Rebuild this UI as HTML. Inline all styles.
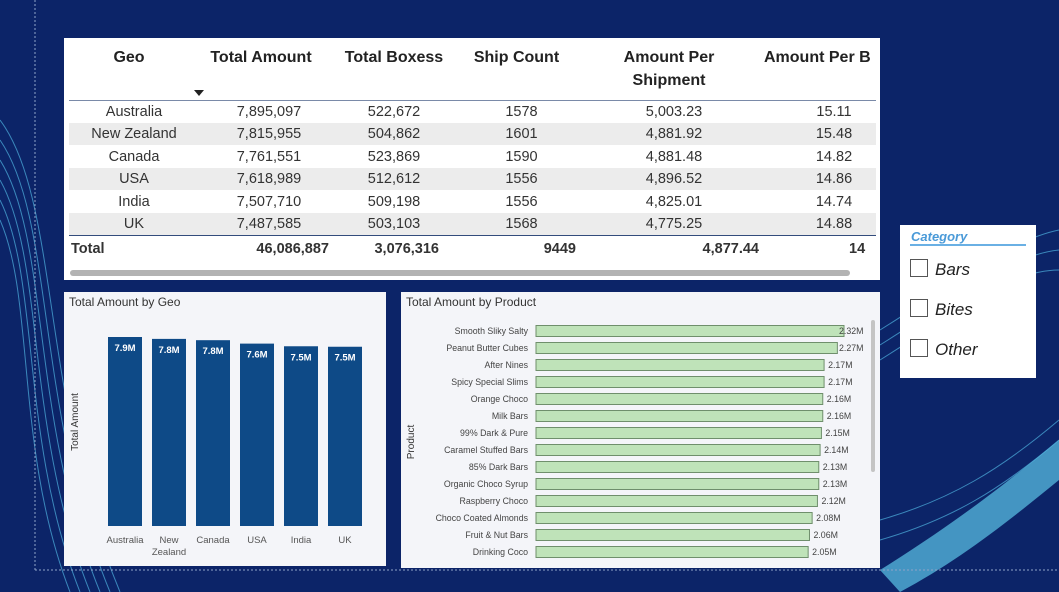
<!DOCTYPE html>
<html><head><meta charset="utf-8"><style>
body{margin:0;width:1059px;height:592px;overflow:hidden;background:#0c2468;font-family:"Liberation Sans",sans-serif;position:relative}
.abs{position:absolute}
.tbl{left:64px;top:38px;width:816px;height:242px;background:#fff}
.th{position:absolute;top:8px;font-weight:bold;font-size:16px;color:#222;text-align:center;line-height:23px}
.row{position:absolute;left:5px;width:807px;height:22px;font-size:14.5px;color:#333}
.row span{position:absolute;top:3px;text-align:center}
.panel{background:#f4f5f9}
</style></head><body>
<svg class="abs" style="left:0;top:0" width="1059" height="592">
<g fill="none" stroke="#4fb3e0" stroke-width="1" opacity="0.7">
<path d="M0 120 C60 200 40 400 120 592"/><path d="M0 140 C55 220 35 410 110 592"/><path d="M0 160 C50 240 30 420 100 592"/><path d="M0 180 C45 260 25 430 90 592"/><path d="M0 200 C40 280 20 440 80 592"/><path d="M0 220 C35 300 15 450 70 592"/>
<path d="M880 330 C960 280 1010 240 1059 230"/><path d="M880 345 C960 295 1010 255 1059 250"/><path d="M880 360 C960 310 1010 270 1059 270"/>
<path d="M880 520 C950 500 1000 470 1059 420"/><path d="M880 540 C950 520 1000 490 1059 440"/>
</g>
<path d="M880 570 C960 520 1010 480 1059 440 L1059 480 C1010 520 960 560 900 592 Z" fill="#5cc6e8" opacity="0.7"/>
<line x1="35" y1="0" x2="35" y2="570" stroke="#8fa3c8" stroke-dasharray="2,2"/>
<line x1="35" y1="570" x2="1059" y2="570" stroke="#8fa3c8" stroke-dasharray="2,2"/>
</svg>

<div class="abs tbl">
<div class="th" style="left:30px;width:70px">Geo</div>
<div class="th" style="left:135px;width:124px">Total Amount</div>
<div class="abs" style="left:130px;top:52px;width:0;height:0;border-left:5px solid transparent;border-right:5px solid transparent;border-top:6px solid #222"></div>
<div class="th" style="left:270px;width:120px">Total Boxess</div>
<div class="th" style="left:400px;width:105px">Ship Count</div>
<div class="th" style="left:545px;width:120px">Amount Per<br>Shipment</div>
<div class="th" style="left:700px;width:140px;text-align:left;white-space:nowrap;overflow:hidden;width:116px">Amount Per B</div>
<div class="abs" style="left:5px;top:62px;width:807px;height:1px;background:#7a8aa8"></div>
<div id="rows"></div>
<div class="abs" style="left:5px;top:197px;width:807px;height:1px;background:#334c7c"></div>
<div class="row" style="top:200px;font-weight:bold">
<span style="left:2px">Total</span><span style="left:150px;width:110px;text-align:right">46,086,887</span><span style="left:260px;width:110px;text-align:right">3,076,316</span><span style="left:400px;width:107px;text-align:right">9449</span><span style="left:580px;width:110px;text-align:right">4,877.44</span><span style="left:780px">14</span></div>
<div class="abs" style="left:6px;top:232px;width:780px;height:6px;border-radius:3px;background:#b3b3b3"></div>
</div>

<div class="abs panel" style="left:64px;top:292px;width:322px;height:274px">
<div class="abs" style="left:5px;top:3px;font-size:12px;color:#333">Total Amount by Geo</div>
<svg id="geo" class="abs" style="left:0;top:0" width="322" height="274"></svg>
</div>

<div class="abs panel" style="left:401px;top:292px;width:479px;height:276px">
<div class="abs" style="left:5px;top:3px;font-size:12px;color:#333">Total Amount by Product</div>
<svg id="prod" class="abs" style="left:0;top:0" width="479" height="276"></svg>
<div class="abs" style="left:470px;top:28px;width:4px;height:152px;background:#c4c4c4;border-radius:2px"></div>
</div>

<div class="abs" style="left:900px;top:225px;width:136px;height:153px;background:#fff">
<div class="abs" style="left:11px;top:4px;font-size:13px;font-style:italic;font-weight:bold;color:#4a9ad8">Category</div>
<div class="abs" style="left:10px;top:19px;width:116px;height:2px;background:#6ab0e4"></div>
<div class="abs" style="left:10px;top:34px;font-size:17px;font-style:italic;color:#222"><span style="display:inline-block;width:16px;height:16px;border:1px solid #555;vertical-align:-2px;margin-right:7px"></span>Bars</div>
<div class="abs" style="left:10px;top:74px;font-size:17px;font-style:italic;color:#222"><span style="display:inline-block;width:16px;height:16px;border:1px solid #555;vertical-align:-2px;margin-right:7px"></span>Bites</div>
<div class="abs" style="left:10px;top:114px;font-size:17px;font-style:italic;color:#222"><span style="display:inline-block;width:16px;height:16px;border:1px solid #555;vertical-align:-2px;margin-right:7px"></span>Other</div>
</div>

<script>
const geoNames=["Australia","New Zealand","Canada","USA","India","UK"];
const totalAmount=["7,895,097","7,815,955","7,761,551","7,618,989","7,507,710","7,487,585"];
const totalBoxes=["522,672","504,862","523,869","512,612","509,198","503,103"];
const shipCount=["1578","1601","1590","1556","1556","1568"];
const amtPerShip=["5,003.23","4,881.92","4,881.48","4,896.52","4,825.01","4,775.25"];
const amtPerBox=["15.11","15.48","14.82","14.86","14.74","14.88"];
const geoValues=[7.895,7.816,7.762,7.619,7.508,7.488];
const geoLabels=["7.9M","7.8M","7.8M","7.6M","7.5M","7.5M"];
const products=["Smooth Sliky Salty","Peanut Butter Cubes","After Nines","Spicy Special Slims","Orange Choco","Milk Bars","99% Dark & Pure","Caramel Stuffed Bars","85% Dark Bars","Organic Choco Syrup","Raspberry Choco","Choco Coated Almonds","Fruit & Nut Bars","Drinking Coco"];
const productValues=[2.32,2.27,2.17,2.17,2.16,2.16,2.15,2.14,2.13,2.13,2.12,2.08,2.06,2.05];
const productLabels=["2.32M","2.27M","2.17M","2.17M","2.16M","2.16M","2.15M","2.14M","2.13M","2.13M","2.12M","2.08M","2.06M","2.05M"];

const NS="http://www.w3.org/2000/svg";
function mk(t,a,txt){const e=document.createElementNS(NS,t);for(const k in a)e.setAttribute(k,a[k]);if(txt!=null)e.textContent=txt;return e;}

// table rows
const rows=document.getElementById('rows');
const cols=[[geoNames,10,110,'center'],[totalAmount,150,100,'center'],[totalBoxes,270,110,'center'],[shipCount,400,105,'center'],[amtPerShip,545,120,'center'],[amtPerBox,735,60,'center']];
geoNames.forEach((g,i)=>{
  const r=document.createElement('div');r.className='row';
  
  
  r.style.top=(63+i*22.4)+'px';
  if(i%2==1)r.style.background='#ececec';
  cols.forEach(c=>{const s=document.createElement('span');s.style.left=c[1]+'px';s.style.width=c[2]+'px';s.textContent=c[0][i];r.appendChild(s);});
  rows.appendChild(r);
});

// geo chart
const geo=document.getElementById('geo');
const gBase=234, gScale=189/7.895, gX0=44, gStep=44, gW=34;
const yx=(v)=>gBase-v*gScale;
geo.appendChild(mk('text',{x:14,y:130,'font-size':10,fill:'#333',transform:'rotate(-90 14 130)','text-anchor':'middle',},'Total Amount'));
geoValues.forEach((v,i)=>{
  const x=gX0+i*gStep;
  const b=mk('rect',{x:x,y:yx(v),width:gW,height:gBase-yx(v),fill:'#0e4a87'});
  
  
  geo.appendChild(b);
  const l=mk('text',{x:x+gW/2,y:yx(v)+14,'font-size':9.5,'font-weight':'bold',fill:'#fff','text-anchor':'middle'},geoLabels[i]);
  
  
  geo.appendChild(l);
  const parts=geoNames[i].split(' ');
  parts.forEach((p,j)=>{
    const t=mk('text',{x:x+gW/2,y:251+j*12,'font-size':9.5,fill:'#555','text-anchor':'middle'},p);
    
    
    geo.appendChild(t);
  });
});

// product chart
const prod=document.getElementById('prod');
const pX0=135, pScale=308/2.32, pY0=39, pStep=17, pH=11;
const px=(v)=>v*pScale;
prod.appendChild(mk('text',{x:13,y:150,'font-size':10,fill:'#333',transform:'rotate(-90 13 150)','text-anchor':'middle',},'Product'));
productValues.forEach((v,i)=>{
  const cy=pY0+i*pStep;
  const t=mk('text',{x:127,y:cy+3,'font-size':8.8,fill:'#444','text-anchor':'end'},products[i]);
  
  
  prod.appendChild(t);
  const b=mk('rect',{x:pX0,y:cy-pH/2,width:px(v),height:pH,fill:'#bfe3b9',stroke:'#6f8f6c','stroke-width':1});
  
  
  prod.appendChild(b);
  const l=mk('text',{x:Math.min(pX0+px(v)+4,438),y:cy+3,'font-size':8.8,fill:'#444'},productLabels[i]);
  
  
  prod.appendChild(l);
});
</script>
</body></html>
